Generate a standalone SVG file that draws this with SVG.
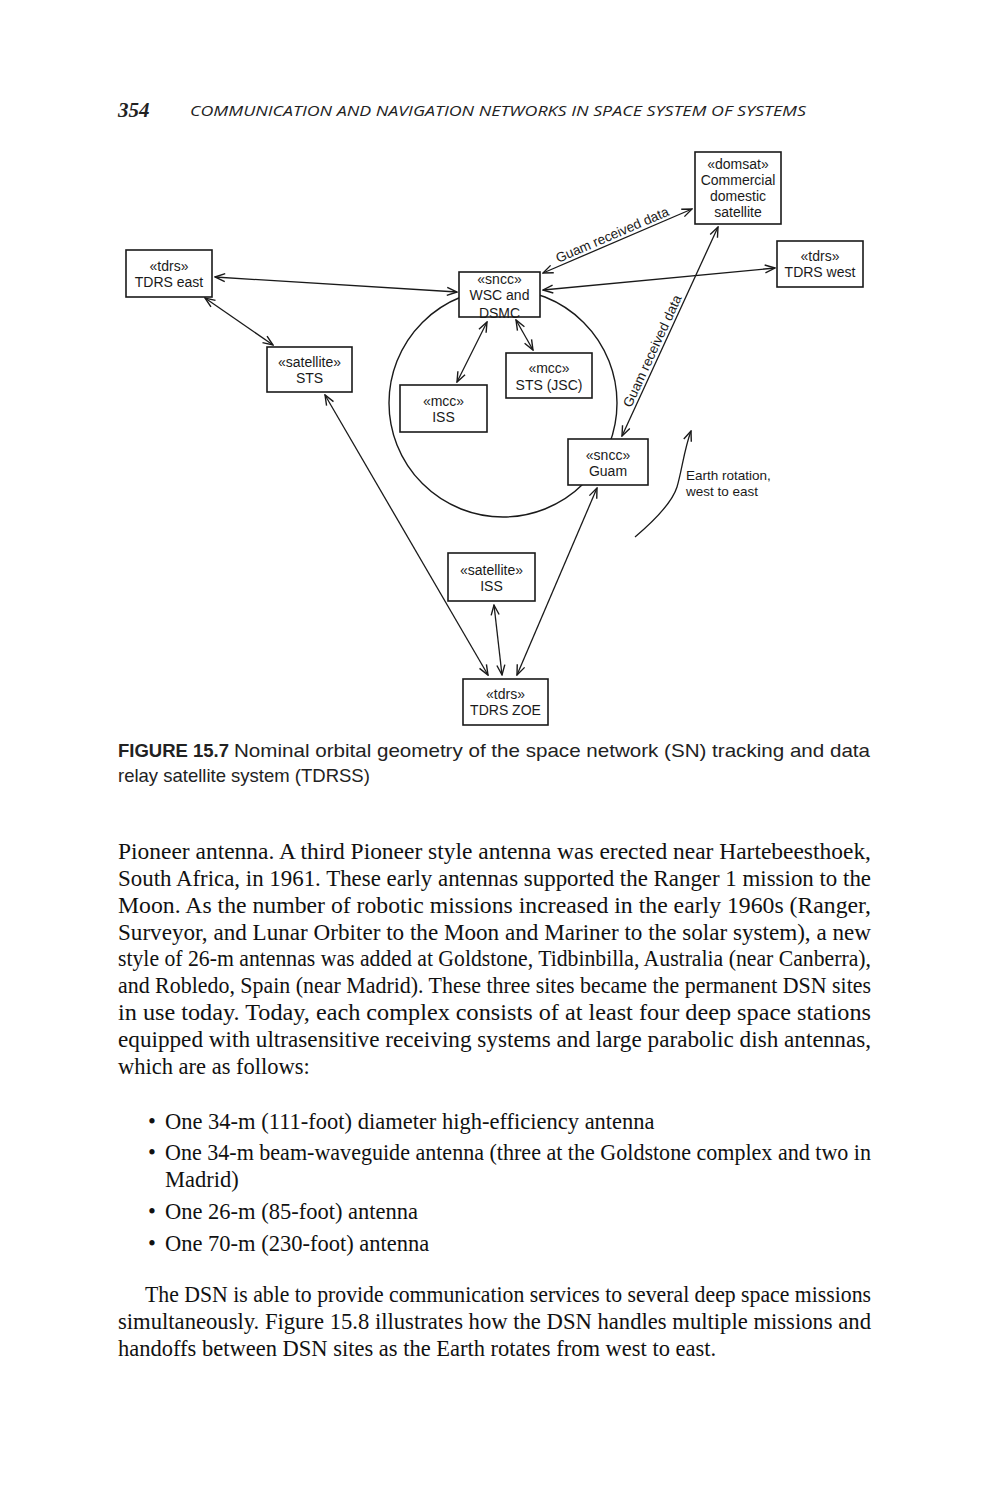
<svg xmlns="http://www.w3.org/2000/svg" width="993" height="1500" viewBox="0 0 993 1500">
<style>
.bg{fill:#ffffff}
.box{fill:#ffffff;stroke:#1a1a1a;stroke-width:1.6}
.orbit{fill:none;stroke:#1a1a1a;stroke-width:1.4}
.lnk{fill:none;stroke:#1a1a1a;stroke-width:1.3}
.dt{font-family:"Liberation Sans",Arial,sans-serif;font-size:14px;fill:#1a1a1a;text-anchor:middle}
.lab{font-family:"Liberation Sans",Arial,sans-serif;font-size:13.5px;fill:#1a1a1a}
.hdr{font-family:"Open Sans","Liberation Sans",sans-serif;font-style:italic;font-size:14.5px;fill:#222}
.pg{font-family:"Liberation Serif","Times New Roman",serif;font-style:italic;font-weight:bold;font-size:21px;fill:#222}
.cap{font-family:"Liberation Sans",Arial,sans-serif;font-size:18.5px;fill:#222}
.capb{font-family:"Liberation Sans",Arial,sans-serif;font-size:18.5px;font-weight:bold;fill:#222}
.body{font-family:"Liberation Serif","Times New Roman",serif;font-size:22.5px;fill:#111}
</style>
<defs>
<marker id="ah" viewBox="0 0 12 10" refX="11" refY="5" markerWidth="12" markerHeight="10" markerUnits="userSpaceOnUse" orient="auto-start-reverse">
<path d="M1,1 L11,5 L1,9" fill="none" stroke="#1a1a1a" stroke-width="1.4"/>
</marker>
</defs>
<rect class="bg" x="0" y="0" width="993" height="1500"/>

<g id="header">
<text class="pg" x="118" y="117">354</text>
<text class="hdr" x="190" y="116" textLength="616" lengthAdjust="spacingAndGlyphs">COMMUNICATION AND NAVIGATION NETWORKS IN SPACE SYSTEM OF SYSTEMS</text>
</g>

<circle class="orbit" cx="503" cy="403" r="114"/>

<g id="connectors">
<line class="lnk" x1="215" y1="277" x2="457" y2="292" marker-start="url(#ah)" marker-end="url(#ah)"/>
<line class="lnk" x1="205" y1="298" x2="273" y2="345" marker-start="url(#ah)" marker-end="url(#ah)"/>
<line class="lnk" x1="543" y1="290" x2="775" y2="268" marker-start="url(#ah)" marker-end="url(#ah)"/>
<line class="lnk" x1="543" y1="273" x2="692" y2="209" marker-start="url(#ah)" marker-end="url(#ah)"/>
<line class="lnk" x1="622" y1="436" x2="718" y2="227" marker-start="url(#ah)" marker-end="url(#ah)"/>
<line class="lnk" x1="487" y1="322" x2="457" y2="382" marker-start="url(#ah)" marker-end="url(#ah)"/>
<line class="lnk" x1="516" y1="320" x2="533" y2="350" marker-start="url(#ah)" marker-end="url(#ah)"/>
<line class="lnk" x1="325" y1="395" x2="488" y2="675" marker-start="url(#ah)" marker-end="url(#ah)"/>
<line class="lnk" x1="494" y1="605" x2="502" y2="675" marker-start="url(#ah)" marker-end="url(#ah)"/>
<line class="lnk" x1="597" y1="488" x2="517" y2="675" marker-start="url(#ah)" marker-end="url(#ah)"/>
<path class="lnk" d="M635,537 C655,520 672,503 677,487 C682,470 684,450 691,431" marker-end="url(#ah)"/>
<text class="lab" text-anchor="middle" transform="translate(614,239) rotate(-23.2)">Guam received data</text>
<text class="lab" text-anchor="middle" transform="translate(656.5,353) rotate(-65.3)">Guam received data</text>
<text class="lab" x="686" y="480">Earth rotation,</text>
<text class="lab" x="686" y="496">west to east</text>
</g>

<g id="domsat">
<rect class="box" x="695" y="152" width="86" height="72"/>
<text class="dt" x="738" y="169">«domsat»</text>
<text class="dt" x="738" y="185">Commercial</text>
<text class="dt" x="738" y="201">domestic</text>
<text class="dt" x="738" y="217">satellite</text>
</g>
<g id="tdrs-west">
<rect class="box" x="777" y="241" width="86" height="46"/>
<text class="dt" x="820" y="261">«tdrs»</text>
<text class="dt" x="820" y="277">TDRS west</text>
</g>
<g id="tdrs-east">
<rect class="box" x="126" y="250" width="86" height="47"/>
<text class="dt" x="169" y="271">«tdrs»</text>
<text class="dt" x="169" y="287">TDRS east</text>
</g>
<g id="satellite-sts">
<rect class="box" x="267" y="347" width="85" height="45"/>
<text class="dt" x="309.5" y="367">«satellite»</text>
<text class="dt" x="309.5" y="383">STS</text>
</g>
<g id="wsc">
<rect class="box" x="459" y="272" width="81" height="45"/>
<text class="dt" x="499.5" y="284">«sncc»</text>
<text class="dt" x="499.5" y="300">WSC and</text>
<text class="dt" x="499.5" y="318">DSMC</text>
</g>
<g id="mcc-iss">
<rect class="box" x="400" y="385" width="87" height="47"/>
<text class="dt" x="443.5" y="406">«mcc»</text>
<text class="dt" x="443.5" y="422">ISS</text>
</g>
<g id="mcc-sts">
<rect class="box" x="506" y="353" width="86" height="45"/>
<text class="dt" x="549" y="373">«mcc»</text>
<text class="dt" x="549" y="390">STS (JSC)</text>
</g>
<g id="guam">
<rect class="box" x="568" y="439" width="80" height="46"/>
<text class="dt" x="608" y="460">«sncc»</text>
<text class="dt" x="608" y="476">Guam</text>
</g>
<g id="satellite-iss">
<rect class="box" x="448" y="553" width="87" height="48"/>
<text class="dt" x="491.5" y="575">«satellite»</text>
<text class="dt" x="491.5" y="591">ISS</text>
</g>
<g id="tdrs-zoe">
<rect class="box" x="463" y="679" width="85" height="46"/>
<text class="dt" x="505.5" y="699">«tdrs»</text>
<text class="dt" x="505.5" y="715">TDRS ZOE</text>
</g>

<g id="caption">
<text class="capb" x="118" y="757">FIGURE 15.7</text>
<text class="cap" x="234" y="757" textLength="636" lengthAdjust="spacingAndGlyphs">Nominal orbital geometry of the space network (SN) tracking and data</text>
<text class="cap" x="118" y="782">relay satellite system (TDRSS)</text>
</g>

<g id="body">
<text class="body" x="118" y="859" textLength="753" lengthAdjust="spacingAndGlyphs">Pioneer antenna. A third Pioneer style antenna was erected near Hartebeesthoek,</text>
<text class="body" x="118" y="886" textLength="753" lengthAdjust="spacingAndGlyphs">South Africa, in 1961. These early antennas supported the Ranger 1 mission to the</text>
<text class="body" x="118" y="913" textLength="753" lengthAdjust="spacingAndGlyphs">Moon. As the number of robotic missions increased in the early 1960s (Ranger,</text>
<text class="body" x="118" y="940" textLength="753" lengthAdjust="spacingAndGlyphs">Surveyor, and Lunar Orbiter to the Moon and Mariner to the solar system), a new</text>
<text class="body" x="118" y="966" textLength="753" lengthAdjust="spacingAndGlyphs">style of 26-m antennas was added at Goldstone, Tidbinbilla, Australia (near Canberra),</text>
<text class="body" x="118" y="993" textLength="753" lengthAdjust="spacingAndGlyphs">and Robledo, Spain (near Madrid). These three sites became the permanent DSN sites</text>
<text class="body" x="118" y="1020" textLength="753" lengthAdjust="spacingAndGlyphs">in use today. Today, each complex consists of at least four deep space stations</text>
<text class="body" x="118" y="1047" textLength="753" lengthAdjust="spacingAndGlyphs">equipped with ultrasensitive receiving systems and large parabolic dish antennas,</text>
<text class="body" x="118" y="1074">which are as follows:</text>

<text class="body" x="148" y="1129">•</text>
<text class="body" x="165" y="1129">One 34-m (111-foot) diameter high-efficiency antenna</text>
<text class="body" x="148" y="1160">•</text>
<text class="body" x="165" y="1160" textLength="706" lengthAdjust="spacingAndGlyphs">One 34-m beam-waveguide antenna (three at the Goldstone complex and two in</text>
<text class="body" x="165" y="1187">Madrid)</text>
<text class="body" x="148" y="1219">•</text>
<text class="body" x="165" y="1219">One 26-m (85-foot) antenna</text>
<text class="body" x="148" y="1251">•</text>
<text class="body" x="165" y="1251">One 70-m (230-foot) antenna</text>

<text class="body" x="145" y="1302" textLength="726" lengthAdjust="spacingAndGlyphs">The DSN is able to provide communication services to several deep space missions</text>
<text class="body" x="118" y="1329" textLength="753" lengthAdjust="spacingAndGlyphs">simultaneously. Figure 15.8 illustrates how the DSN handles multiple missions and</text>
<text class="body" x="118" y="1356">handoffs between DSN sites as the Earth rotates from west to east.</text>
</g>
</svg>
